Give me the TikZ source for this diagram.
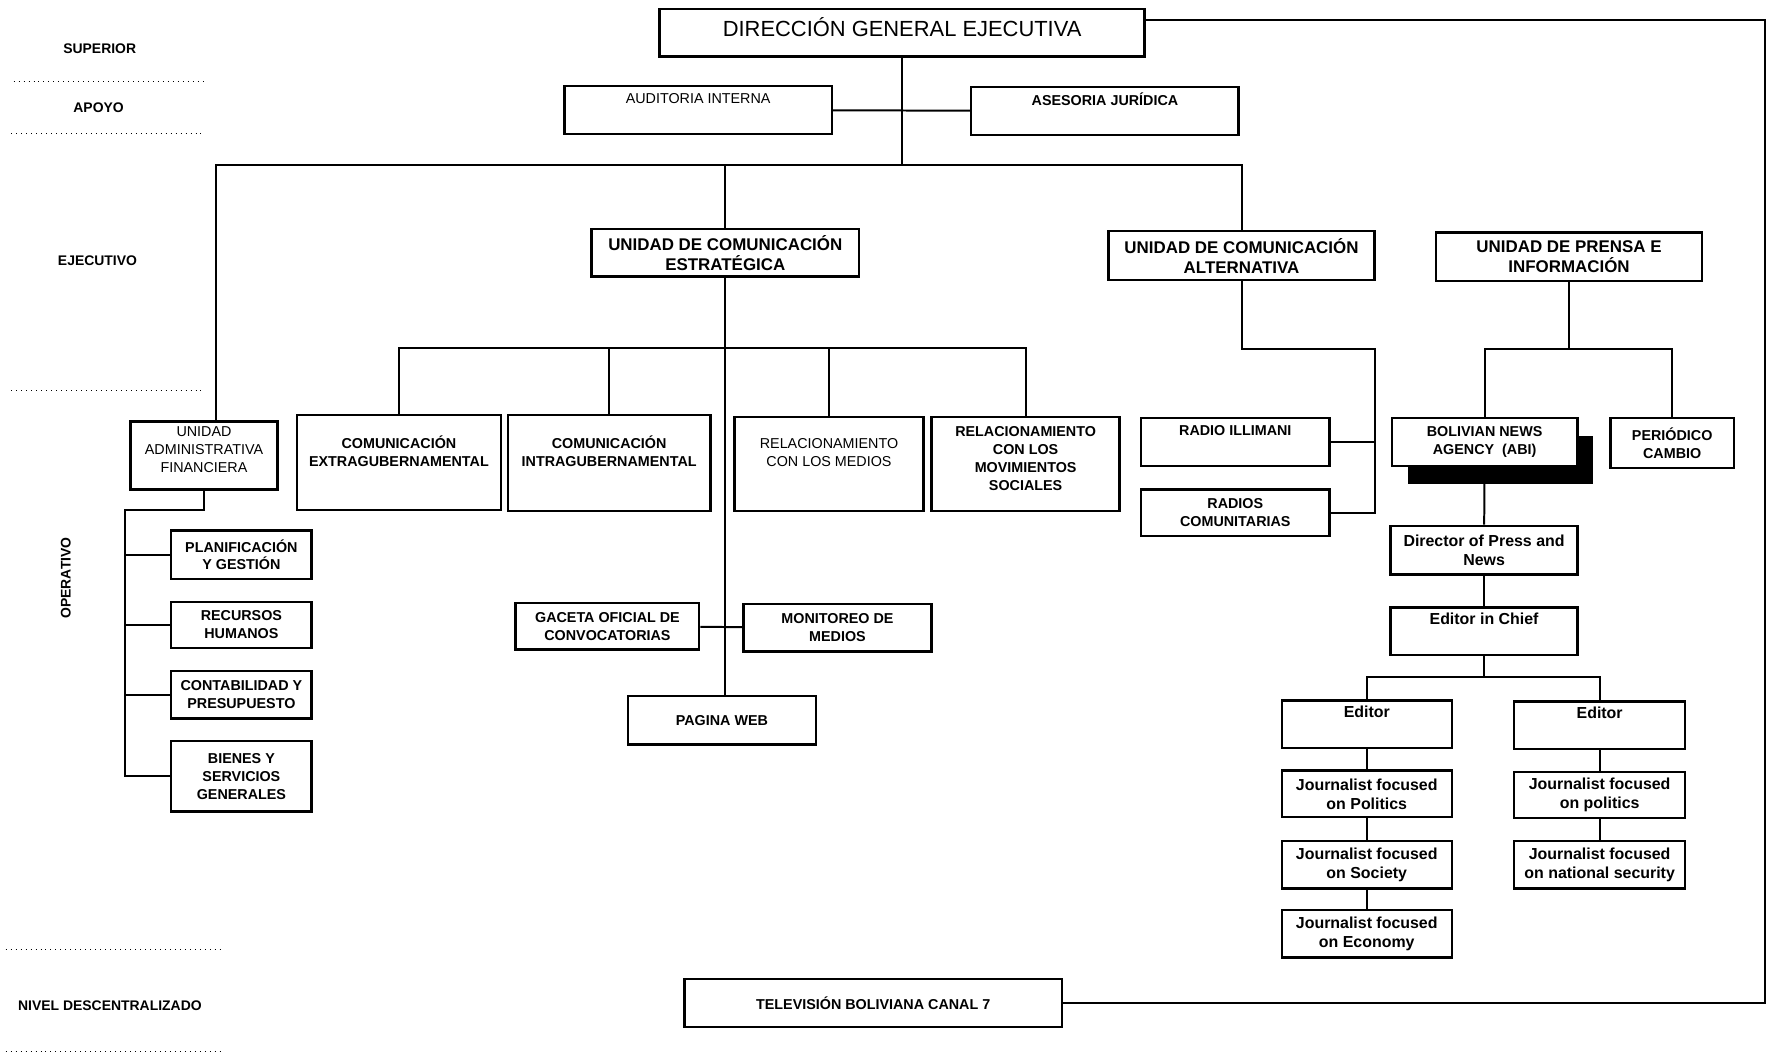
\documentclass[tikz,border=0pt]{standalone}
\usepackage{fontspec}
\setmainfont{Liberation Sans}
\usetikzlibrary{shadows}

\begin{document}
\begin{tikzpicture}[x=0.02cm, y=-0.02cm, line width=1pt,
  every node/.style={font=\fontsize{7.2}{9}\selectfont\bfseries},
  caja/.style={draw, line width=1.2pt, align=center, inner sep=1pt, fill=white},
  fino/.style={font=\fontsize{7.2}{9}\selectfont},
  unidad/.style={caja, font=\fontsize{8.5}{10}\selectfont\bfseries},
  ingles/.style={caja, font=\fontsize{8}{9.5}\selectfont\bfseries},
  nivel/.style={font=\fontsize{7}{8}\selectfont\bfseries},
  sep/.style={dotted, line width=0.5pt}]
\useasboundingbox (0,0) rectangle (1568,932);

\node[nivel] (sup) at (88,43) {SUPERIOR};
\node[nivel] (apo) at (87,95) {APOYO};
\node[nivel] (eje) at (86,230) {EJECUTIVO};
\node[nivel, rotate=90] (ope) at (58,510) {OPERATIVO};
\node[nivel] (des) at (97,887) {NIVEL DESCENTRALIZADO};
\draw[sep] (12,72) -- (180,72);
\draw[sep] (10,118) -- (178,118);
\draw[sep] (10,345) -- (178,345);
\draw[sep] (5,838) -- (195,838);
\draw[sep] (5,928) -- (197,928);

\node[caja, font=\fontsize{11}{13}\selectfont, text depth=0.22cm, minimum width=8.56cm, minimum height=0.84cm] (dge) at (796,29) {DIRECCIÓN GENERAL EJECUTIVA};
\node[caja, fino, minimum width=4.72cm, minimum height=0.84cm] (aud) at (616,97) {AUDITORIA INTERNA\\\strut};
\node[caja, minimum width=4.72cm, minimum height=0.84cm] (ase) at (975,98) {ASESORIA JURÍDICA\\\strut};

\node[unidad, minimum width=4.72cm, minimum height=0.84cm] (uce) at (640,223) {UNIDAD DE COMUNICACIÓN\\ESTRATÉGICA};
\node[unidad, minimum width=4.7cm, minimum height=0.86cm] (uca) at (1095.5,225.5) {UNIDAD DE COMUNICACIÓN\\ALTERNATIVA};
\node[unidad, minimum width=4.7cm, minimum height=0.86cm] (upi) at (1384.5,226.5) {UNIDAD DE PRENSA E\\INFORMACIÓN};

\node[caja, fino, text depth=0.2cm, minimum width=2.6cm, minimum height=1.2cm] (uaf) at (180,402) {UNIDAD\\ADMINISTRATIVA\\FINANCIERA};
\node[caja, minimum width=2.48cm, minimum height=0.86cm] (pyg) at (213,489.5) {PLANIFICACIÓN\\Y GESTIÓN};
\node[caja, minimum width=2.48cm, minimum height=0.82cm] (rh) at (213,551.5) {RECURSOS\\HUMANOS};
\node[caja, minimum width=2.48cm, minimum height=0.84cm] (cyp) at (213,613) {CONTABILIDAD Y\\PRESUPUESTO};
\node[caja, minimum width=2.48cm, minimum height=1.24cm] (bys) at (213,685) {BIENES Y\\SERVICIOS\\GENERALES};

\node[caja, minimum width=3.6cm, minimum height=1.68cm] (ce) at (352,408) {COMUNICACIÓN\\EXTRAGUBERNAMENTAL\\\strut};
\node[caja, minimum width=3.58cm, minimum height=1.7cm] (ci) at (537.5,408.5) {COMUNICACIÓN\\INTRAGUBERNAMENTAL\\\strut};
\node[caja, fino, minimum width=3.34cm, minimum height=1.66cm] (rm) at (731.5,409.5) {RELACIONAMIENTO\\CON LOS MEDIOS\\\strut};
\node[caja, text depth=0.2cm, minimum width=3.32cm, minimum height=1.66cm] (rms) at (905,409.5) {RELACIONAMIENTO\\CON LOS\\MOVIMIENTOS\\SOCIALES};
\node[caja, minimum width=3.24cm, minimum height=0.82cm] (gac) at (536,552.5) {GACETA OFICIAL DE\\CONVOCATORIAS};
\node[caja, minimum width=3.32cm, minimum height=0.84cm] (mon) at (739,554) {MONITOREO DE\\MEDIOS};
\node[caja, minimum width=3.32cm, minimum height=0.86cm] (web) at (637,635.5) {PAGINA WEB};

\node[caja, minimum width=3.32cm, minimum height=0.84cm] (ri) at (1090,390) {RADIO ILLIMANI\\\strut};
\node[caja, minimum width=3.32cm, minimum height=0.82cm] (rc) at (1090,452.5) {RADIOS\\COMUNITARIAS};

\node[caja, minimum width=3.28cm, minimum height=0.84cm,
  drop shadow={shadow xshift=0.28cm, shadow yshift=-0.32cm, fill=black, opacity=1}] (bna) at (1310,390) {BOLIVIAN NEWS\\AGENCY~~(ABI)};
\node[caja, minimum width=2.18cm, minimum height=0.88cm] (pc) at (1475.5,391) {PERIÓDICO\\CAMBIO};
\node[ingles, minimum width=3.3cm, minimum height=0.86cm] (dir) at (1309.5,485.5) {Director of Press and\\News};
\node[ingles, minimum width=3.3cm, minimum height=0.84cm] (eic) at (1309.5,557) {Editor in Chief\\\strut};
\node[ingles, minimum width=3cm, minimum height=0.84cm] (edl) at (1206,639) {Editor\\\strut};
\node[ingles, minimum width=3.02cm, minimum height=0.84cm] (edr) at (1411.5,640) {Editor\\\strut};
\node[ingles, minimum width=3cm, minimum height=0.82cm] (jpl) at (1206,700.5) {Journalist focused\\on Politics};
\node[ingles, minimum width=3cm, minimum height=0.84cm] (jso) at (1206,763) {Journalist focused\\on Society};
\node[ingles, minimum width=3cm, minimum height=0.84cm] (jec) at (1206,824) {Journalist focused\\on Economy};
\node[ingles, minimum width=3.02cm, minimum height=0.82cm] (jpr) at (1411.5,701.5) {Journalist focused\\on politics};
\node[ingles, minimum width=3.02cm, minimum height=0.84cm] (jns) at (1411.5,763) {Journalist focused\\on national security};

\node[caja, minimum width=6.66cm, minimum height=0.84cm] (tv) at (770.5,885) {TELEVISIÓN BOLIVIANA CANAL 7};

\coordinate (bus) at (796,146);
\coordinate (ucebus) at (640,307);
\coordinate (uafbus) at (110,450);
\coordinate (ucabus) at (1213,308);
\coordinate (upibus) at (1385,308);
\coordinate (edbus) at (1309,597);
\coordinate (lazo) at (1557,885);

\draw (dge) -- (bus);
\draw (aud) -- (ase);
\draw ([xshift=0.22cm]uaf.north) |- (bus) -| (uca.north);
\draw (uce.north) -- (uce.north |- bus);
\draw (uce.south) -- (uce.south |- web.north);
\draw (ce.north) |- (ucebus) -| (rms.north);
\draw (ci.north) -- (ci.north |- ucebus);
\draw (rm.north) -- (rm.north |- ucebus);
\draw (gac) -- (mon);
\draw (uaf.south) |- (uafbus) |- (bys.west);
\foreach \n in {pyg,rh,cyp}
  \draw (\n.west) -- (\n.west -| uafbus);
\draw (uca.south) |- (ucabus) |- (rc.east);
\draw (ri.east) -- (ri.east -| ucabus);
\draw (upi.south) -- (upi.south |- upibus);
\draw (bna.north) |- (upibus) -| (pc.north);
\draw (bna) -- (dir);
\draw (dir) -- (eic);
\draw (eic.south) -- (eic.south |- edbus);
\draw (edl.north) |- (edbus) -| (edr.north);
\draw (edl) -- (jpl) -- (jso) -- (jec);
\draw (edr) -- (jpr) -- (jns);
\draw ([yshift=0.22cm]dge.east) -| (lazo) -- (tv.east);
\end{tikzpicture}
\end{document}
